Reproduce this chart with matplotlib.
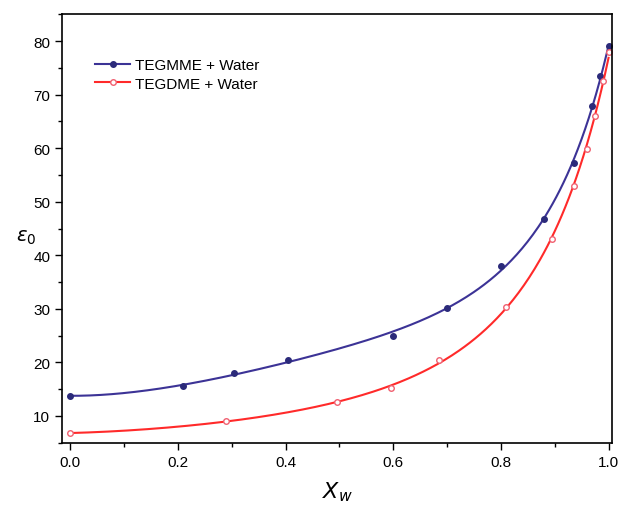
import numpy as np
import matplotlib.pyplot as plt
from matplotlib.ticker import MultipleLocator
from matplotlib.lines import Line2D

plt.rcParams['font.family'] = ['Liberation Sans', 'DejaVu Sans']

# measured points
x_tegmme = [0.0, 0.21, 0.305, 0.405, 0.60, 0.70, 0.80, 0.88, 0.935, 0.97, 0.985, 1.0]
y_tegmme = [13.8, 15.5, 18.0, 20.4, 25.0, 30.2, 38.0, 46.7, 57.2, 67.8, 73.5, 79.0]

x_tegdme = [0.0, 0.29, 0.495, 0.595, 0.685, 0.81, 0.895, 0.935, 0.96, 0.975, 0.99, 1.0]
y_tegdme = [6.8, 9.0, 12.6, 15.2, 20.5, 30.3, 43.0, 53.0, 59.8, 66.0, 72.5, 78.0]

labels = ["TEGMME + Water", "TEGDME + Water"]
blue = "#3c3396"
red = "#ff2a2a"


def smooth(xs, ys, deg=4):
    # fit log(y) so the curve follows the steep rise near x=1
    p = np.polyfit(xs, np.log(ys), deg)
    xx = np.linspace(0, 1, 300)
    return xx, np.exp(np.polyval(p, xx))


fig = plt.figure(figsize=(6.21, 5.10), dpi=100)
ax = fig.add_axes([0.10, 0.13, 0.886, 0.84])

xx, yy = smooth(x_tegmme, y_tegmme)
ax.plot(xx, yy, color=blue, lw=1.5)
ax.plot(x_tegmme, y_tegmme, 'o', ms=4, color="#2b2a7a")

xx, yy = smooth(x_tegdme, y_tegdme)
ax.plot(xx, yy, color=red, lw=1.5)
ax.plot(x_tegdme, y_tegdme, 'o', ms=4, mfc='white', mec="#f06070", mew=1)

ax.set_xlim(-0.015, 1.007)
ax.set_ylim(5, 85)
ax.xaxis.set_major_locator(MultipleLocator(0.2))
ax.xaxis.set_minor_locator(MultipleLocator(0.1))
ax.yaxis.set_major_locator(MultipleLocator(10))
ax.yaxis.set_minor_locator(MultipleLocator(5))
ax.set_yticks(np.arange(10, 81, 10))
ax.tick_params(which='major', length=5, width=1, labelsize=11)
ax.tick_params(which='minor', length=3, width=1)
for s in ax.spines.values():
    s.set_linewidth(1.2)

ax.set_xlabel("$X_w$", fontsize=16)
ax.xaxis.set_label_coords(0.5, -0.085)
ax.set_ylabel(r"$\varepsilon_0$", fontsize=14, rotation=0, va='center')
ax.yaxis.set_label_coords(-0.065, 0.48)

handles = [
    Line2D([], [], color=blue, lw=1.5, marker='o', ms=4, mfc="#2b2a7a", mec="#2b2a7a"),
    Line2D([], [], color=red, lw=1.5, marker='o', ms=4, mfc='white', mec="#f06070"),
]
ax.legend(handles, labels, loc='upper left', bbox_to_anchor=(0.035, 0.93),
          frameon=False, fontsize=11, handlelength=2.3, handletextpad=0.3,
          labelspacing=0.3)

fig.savefig("out.png", dpi=100)
